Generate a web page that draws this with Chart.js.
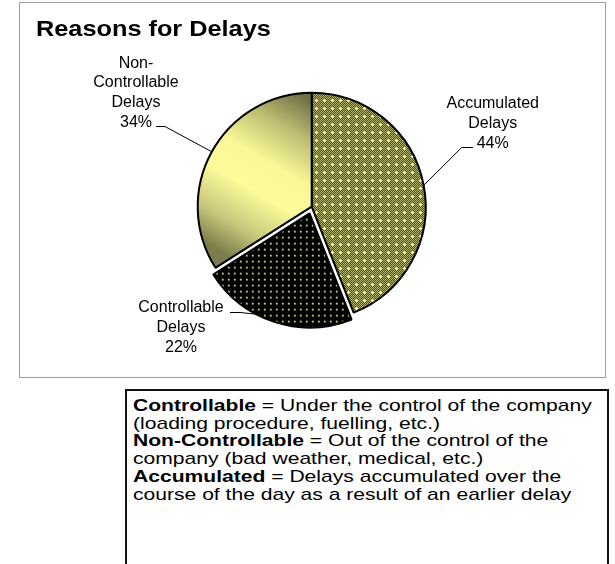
<!DOCTYPE html>
<html>
<head>
<meta charset="utf-8">
<script src="https://cdn.jsdelivr.net/npm/chart.js@4.4.1/dist/chart.umd.min.js"></script>
<style>
  html, body { margin: 0; padding: 0; background: #fff; width: 615px; height: 564px; overflow: hidden; }
  body { font-family: "Liberation Sans", Arial, sans-serif; }
  #frame { position: absolute; left: 19px; top: 2px; width: 585px; height: 374px; border: 1px solid #a0a0a0; }
  #wrap { position: absolute; left: 0; top: 0; width: 615px; height: 380px; }
  #note { position: absolute; left: 125px; top: 389px; width: 484px; height: 200px; box-sizing: border-box;
          border: 2px solid #111; padding: 6px 0 0 6px; overflow: hidden; }
  #note .txt { font-size: 17px; line-height: 17.7px; color: #000; white-space: nowrap;
               transform: scaleX(1.24); transform-origin: 0 0; }
</style>
</head>
<body>
<div id="frame"></div>
<div id="wrap"><canvas id="delayChart" width="615" height="380"></canvas></div>
<div id="note">
  <div class="txt">
    <b>Controllable</b> = Under the control of the company<br>
    (loading procedure, fuelling, etc.)<br>
    <b>Non-Controllable</b> = Out of the control of the<br>
    company (bad weather, medical, etc.)<br>
    <b>Accumulated</b> = Delays accumulated over the<br>
    course of the day as a result of an earlier delay
  </div>
</div>
<script>
const chartTitle = "Reasons for Delays";
const categories = ["Accumulated Delays", "Controllable Delays", "Non-Controllable Delays"];
const labelLines = [["Accumulated", "Delays"], ["Controllable", "Delays"], ["Non-", "Controllable", "Delays"]];
const shares = [44, 22, 34];
const explode = [0, 28, 0]; // chart.js moves a slice by offset / 4

const FONT = '"Liberation Sans", Arial, sans-serif';
const RADIUS = 114;

// label boxes, relative to the pie centre
const labelPlaces = [
  { tx: 181, ty: -98.4, lh: 20, elbow: [150, 161.3, -60], shift: 0 },
  { tx: -130.7, ty: 105, lh: 20, elbow: [-71.7, -81.7, 104.8], shift: 10 },
  { tx: -175.7, ty: -139.2, lh: 19.7, elbow: [-146.7, -155.7, -80.7], shift: 0 }
];

function makeTile(size, draw) {
  const c = document.createElement("canvas");
  c.width = size; c.height = size;
  draw(c.getContext("2d"));
  return c.getContext("2d").createPattern(c, "repeat");
}

const accumulatedFill = makeTile(8, g => {
  for (let y = 0; y < 8; y++) {
    for (let x = 0; x < 8; x++) {
      g.fillStyle = (x + y) % 2 === 0 ? "#b0b070" : "#505030";
      g.fillRect(x, y, 1, 1);
    }
  }
  g.fillStyle = "#ffff99";
  g.fillRect(3, 4, 3, 1);
  g.fillRect(4, 3, 1, 3);
});

const controllableFill = makeTile(6, g => {
  g.fillStyle = "#000";
  g.fillRect(0, 0, 6, 6);
  g.fillStyle = "#9c9c4c";
  g.fillRect(2, 2, 2, 2);
  g.fillStyle = "#e8e888";
  g.fillRect(2, 2, 1, 1);
});

function sliceFill(c) {
  if (c.dataIndex === 0) return accumulatedFill;
  if (c.dataIndex === 1) return controllableFill;
  const area = c.chart.chartArea;
  if (!area) return "#f0f090";
  const cx = (area.left + area.right) / 2;
  const cy = (area.top + area.bottom) / 2;
  const r = RADIUS;
  const g = c.chart.ctx.createLinearGradient(cx - 0.1 * r, cy - 0.98 * r, cx - 0.89 * r, cy + 0.34 * r);
  g.addColorStop(0, "#707046");
  g.addColorStop(0.2, "#bcbc72");
  g.addColorStop(0.42, "#f8f896");
  g.addColorStop(0.6, "#fcfc9a");
  g.addColorStop(0.82, "#c8c87c");
  g.addColorStop(1, "#7c7c4c");
  return g;
}

function slideOf(arc, off) {
  const circ = arc.endAngle - arc.startAngle;
  const fix = 1 - Math.sin(Math.min(Math.PI, circ));
  return (off / 4) * (1 + fix);
}

const pieLabels = {
  id: "pieLabels",
  afterDatasetsDraw(chart) {
    const ctx = chart.ctx;
    const arcs = chart.getDatasetMeta(0).data;
    ctx.save();
    // title
    ctx.save();
    ctx.translate(36, 36);
    ctx.scale(1.15, 1);
    ctx.fillStyle = "#000";
    ctx.font = "bold 22px " + FONT;
    ctx.textBaseline = "alphabetic";
    ctx.textAlign = "left";
    ctx.fillText(chartTitle, 0, 0);
    ctx.restore();

    ctx.font = "16px " + FONT;
    ctx.textAlign = "center";
    ctx.textBaseline = "alphabetic";
    ctx.fillStyle = "#000";
    ctx.strokeStyle = "#000";
    ctx.lineWidth = 1;
    arcs.forEach((arc, i) => {
      const p = labelPlaces[i];
      const cx = arc.x, cy = arc.y;
      const mid = (arc.startAngle + arc.endAngle) / 2;
      const ang = mid + p.shift * Math.PI / 180;
      const off = slideOf(arc, explode[i]);
      const ex = cx + off * Math.cos(mid) + arc.outerRadius * Math.cos(ang);
      const ey = cy + off * Math.sin(mid) + arc.outerRadius * Math.sin(ang);
      const ly = Math.round(cy + p.elbow[2]) + 0.5;
      ctx.beginPath();
      ctx.moveTo(ex, ey);
      ctx.lineTo(cx + p.elbow[0], ly);
      ctx.lineTo(cx + p.elbow[1], ly);
      ctx.stroke();
      const lines = labelLines[i].concat([shares[i] + "%"]);
      lines.forEach((t, k) => {
        ctx.fillText(t, cx + p.tx, cy + p.ty + k * p.lh);
      });
    });
    ctx.restore();
  }
};

new Chart(document.getElementById("delayChart"), {
  type: "pie",
  data: {
    labels: categories,
    datasets: [{
      data: shares,
      backgroundColor: sliceFill,
      borderColor: "#000",
      borderWidth: 2,
      offset: explode,
      hoverOffset: 0
    }]
  },
  options: {
    responsive: false,
    devicePixelRatio: 1,
    animation: false,
    events: [],
    radius: RADIUS,
    layout: { padding: { left: 20, right: 11.6, top: 40, bottom: 6.6 } },
    plugins: {
      legend: { display: false },
      title: { display: false },
      tooltip: { enabled: false }
    }
  },
  plugins: [pieLabels]
});
</script>
</body>
</html>
